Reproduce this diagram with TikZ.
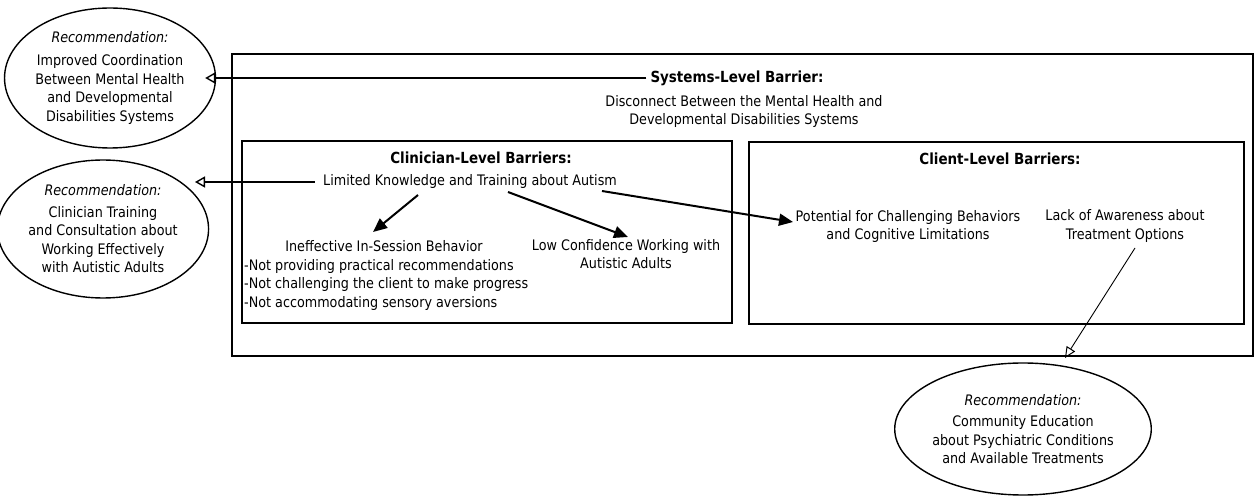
\documentclass[tikz,border=0pt]{standalone}
\usepackage{fontspec}
\setmainfont{DejaVu Sans}[FakeStretch=0.88]
\usetikzlibrary{shapes.geometric,arrows.meta,calc}
\tikzset{
  box/.style={draw, line width=1.8pt, inner sep=0pt},
  recell/.style={draw, ellipse, line width=1.4pt, inner sep=0pt, align=center,
     font=\fontsize{14.5}{18.5}\selectfont},
  txt/.style={align=center, inner sep=0pt},
  heading/.style={txt, font=\fontsize{15.3}{18.5}\selectfont\bfseries},
  openarr/.style={line width=1.6pt, -{Triangle[open,length=10pt,width=11pt,line width=1.4pt]}},
  thinarr/.style={line width=0.9pt, -{Triangle[open,length=11pt,width=10pt,line width=1pt]}},
  fillarr/.style={line width=2pt, -{Triangle[length=14pt,width=12pt]}}
}
\begin{document}
\begin{tikzpicture}[x=1pt,y=-1pt, font=\fontsize{14.5}{18.2}\selectfont]
\useasboundingbox (0,0) rectangle (1259,502);
\fill[white] (0,0) rectangle (1259,502);
% boxes
\node[box, minimum width=1021pt, minimum height=302pt] (outer) at (742.5,205) {};
\node[box, minimum width=490pt, minimum height=182pt] (clin) at (487,232) {};
\node[box, minimum width=495pt, minimum height=182pt] (client) at (996.5,233) {};
% ellipses
\node[recell, minimum width=206pt, minimum height=140pt] (e1) at (110,78)
  {\textit{Recommendation:}\\[5pt]Improved Coordination\\Between Mental Health\\and Developmental\\Disabilities Systems};
\node[recell, minimum width=194pt, minimum height=138pt] (e2) at (103,229)
  {\textit{Recommendation:}\\[3pt]Clinician Training\\and Consultation about\\Working Effectively\\with Autistic Adults};
\node[recell, minimum width=196pt, minimum height=132pt] (e3) at (1023,429)
  {\textit{Recommendation:}\\[3pt]Community Education\\about Psychiatric Conditions\\and Available Treatments};
% texts
\node[heading] (sys) at (737,78) {Systems-Level Barrier:};
\node[txt] (disc) at (744,111.5) {Disconnect Between the Mental Health and\\Developmental Disabilities Systems};
\node[heading] (clinH) at (481,158) {Clinician-Level Barriers:};
\node[txt] (lim) at (470,182) {Limited Knowledge and Training about Autism};
\node[txt] (ineff) at (384,246) {Ineffective In-Session Behavior};
\node[txt, align=left, anchor=west] (bul) at (244,285) {-Not providing practical recommendations\\-Not challenging the client to make progress\\-Not accommodating sensory aversions};
\node[txt] (low) at (626,254) {Low Confidence Working with\\Autistic Adults};
\node[heading] (clientH) at (1000,159) {Client-Level Barriers:};
\node[txt] (pot) at (908,226.5) {Potential for Challenging Behaviors\\and Cognitive Limitations};
\node[txt] (lack) at (1125,226) {Lack of Awareness about\\Treatment Options};
% connectors
\draw[openarr] ([xshift=-4pt]sys.west) -- ([xshift=-11pt]e1.east |- sys.west);
\draw[openarr] ([xshift=-8pt]lim.west) -- ([shift={(92,0)}]e2.center |- lim.west);
\draw[fillarr] ([shift={(-52,13)}]lim.center) -- ([shift={(-11,-14)}]ineff.center);
\draw[fillarr] ([shift={(38,10)}]lim.center) -- ([shift={(2,-17)}]low.center);
\draw[fillarr] ([shift={(132,9)}]lim.center) -- ([shift={(-115,-4.5)}]pot.center);
\draw[thinarr] ([shift={(10,22)}]lack.center) -- ([shift={(42,-71)}]e3.center);
\end{tikzpicture}
\end{document}
